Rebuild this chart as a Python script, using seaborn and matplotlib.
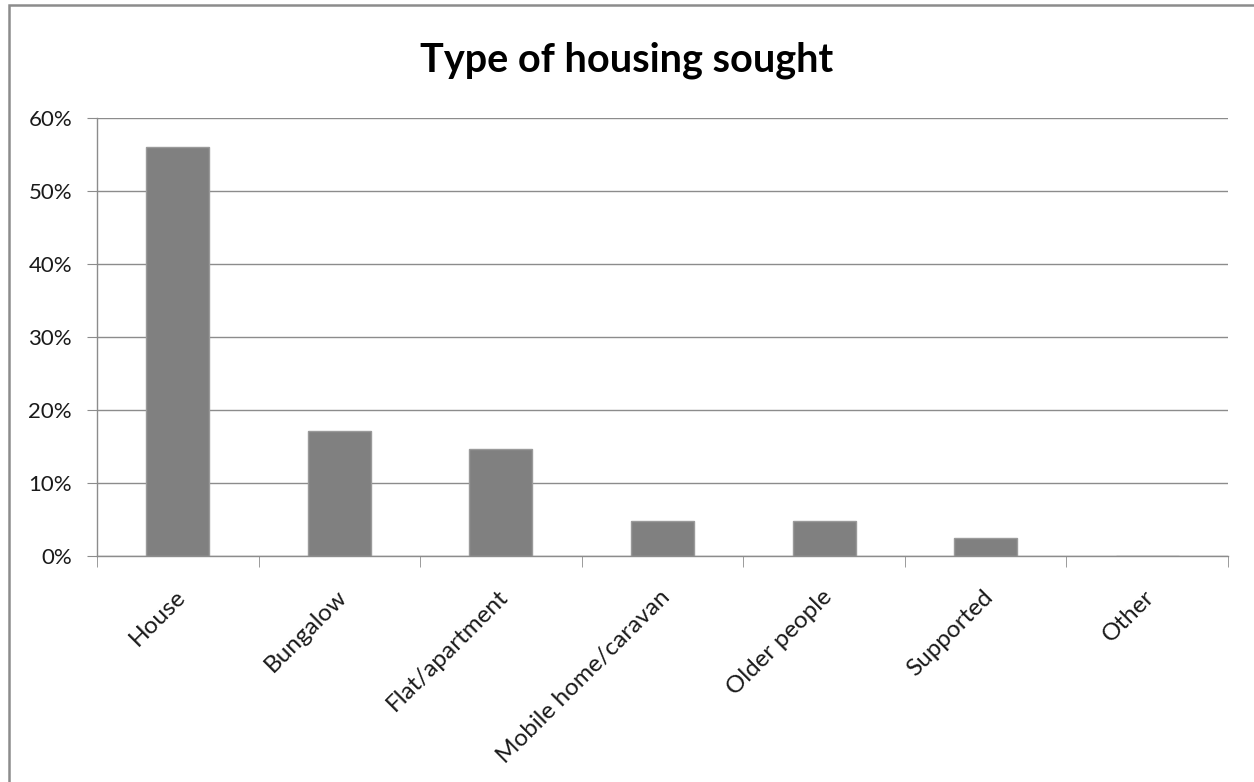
import matplotlib
matplotlib.use("Agg")
import matplotlib.pyplot as plt
import matplotlib.transforms as mtransforms
import seaborn as sns
import numpy as np
from matplotlib.ticker import FuncFormatter, FixedLocator

categories = ["House", "Bungalow", "Flat/apartment", "Mobile home/caravan",
              "Older people", "Supported", "Other"]
shares = [56.0, 17.1, 14.6, 4.8, 4.8, 2.4, 0.0]
y_ticks = [0, 10, 20, 30, 40, 50, 60]

sns.set_style("white")
plt.rcParams["font.family"] = ["Lato", "DejaVu Sans"]

fig = plt.figure(figsize=(12.54, 7.82), dpi=100)
ax = fig.add_axes([97 / 1254, 1 - 556 / 782, (1228 - 97) / 1254, (556 - 118) / 782])

sns.barplot(x=categories, y=shares, color="#808080", width=0.39,
            edgecolor="#9a9a9a", linewidth=1, saturation=1, ax=ax)

ax.set_ylim(0, 60)
ax.set_xlim(-0.5, len(categories) - 0.5)
ax.set_yticks(y_ticks)
ax.yaxis.set_major_formatter(FuncFormatter(lambda v, p: f"{v:.0f}%"))
ax.yaxis.grid(True, color="#8c8c8c", linewidth=1)
ax.set_axisbelow(True)

for s in ["top", "right"]:
    ax.spines[s].set_visible(False)
for s in ["left", "bottom"]:
    ax.spines[s].set_color("#8c8c8c")
    ax.spines[s].set_linewidth(1)

ax.tick_params(axis="y", which="major", left=True, length=7, color="#8c8c8c",
               labelsize=16, pad=11, labelcolor="#1a1a1a")
ax.xaxis.set_minor_locator(FixedLocator(np.arange(-0.5, len(categories), 1.0)))
ax.tick_params(axis="x", which="minor", bottom=True, length=8, color="#8c8c8c")
ax.tick_params(axis="x", which="major", bottom=False, length=0, labelsize=17.5,
               labelcolor="#1a1a1a", pad=27)
shift = mtransforms.ScaledTranslation(3 / 72, 0, fig.dpi_scale_trans)
for lbl in ax.get_xticklabels():
    lbl.set_rotation(45)
    lbl.set_ha("right")
    lbl.set_va("center")
    lbl.set_rotation_mode("anchor")
    lbl.set_transform(lbl.get_transform() + shift)

ax.set_xlabel("")
ax.set_ylabel("")

fig.text(0.5, 1 - 60 / 782, "Type of housing sought", ha="center", va="center",
         fontsize=28.5, fontweight="bold", color="black")

frame = plt.Rectangle((8.5 / 1254, -0.02), 1.0, 1 - 5 / 782 + 0.02,
                      transform=fig.transFigure, fill=False,
                      edgecolor="#8c8c8c", linewidth=1.8)
fig.patches.append(frame)

fig.savefig("out.png", dpi=100)
